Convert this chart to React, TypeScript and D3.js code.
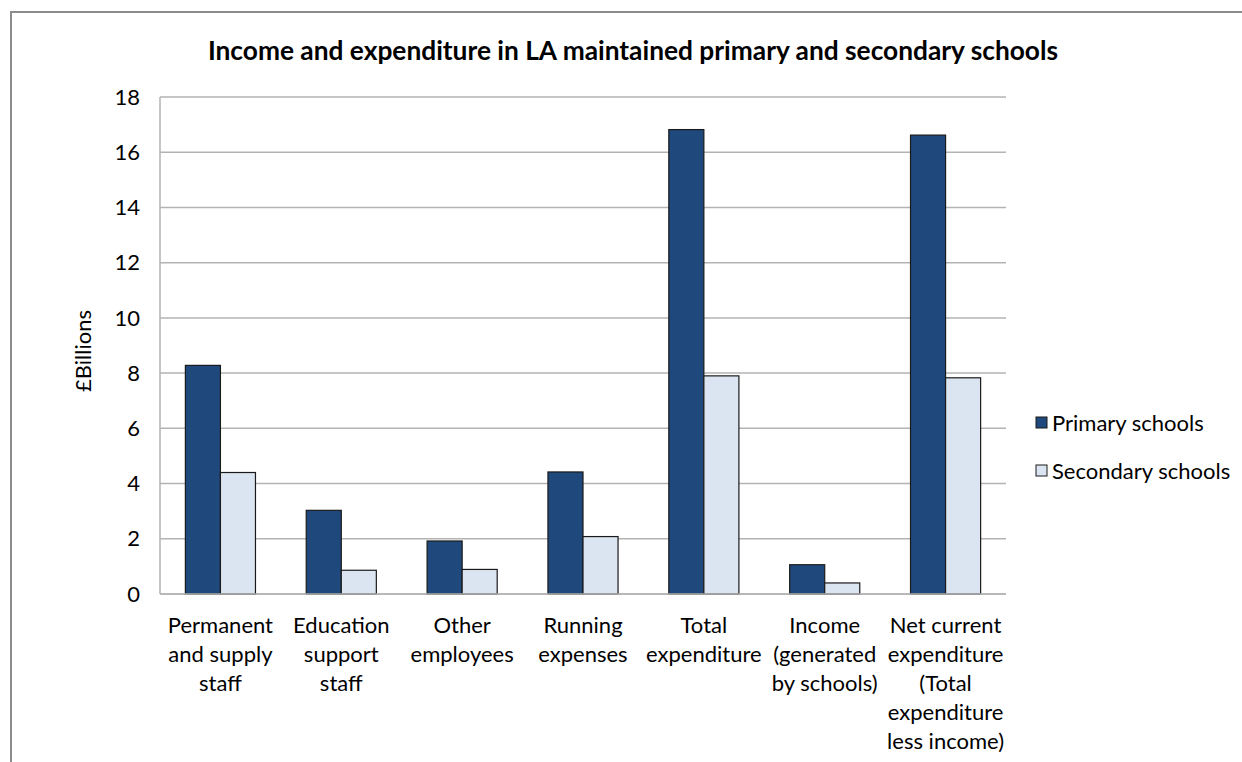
import React from "react";
import * as d3 from "d3";

const categories: string[][] = [
  ["Permanent", "and supply", "staff"],
  ["Education", "support", "staff"],
  ["Other", "employees"],
  ["Running", "expenses"],
  ["Total", "expenditure"],
  ["Income", "(generated", "by schools)"],
  ["Net current", "expenditure", "(Total", "expenditure", "less income)"],
];
const primary = [8.28, 3.03, 1.92, 4.42, 16.82, 1.06, 16.62];
const secondary = [4.4, 0.86, 0.89, 2.08, 7.9, 0.4, 7.83];
const yTicks = [0, 2, 4, 6, 8, 10, 12, 14, 16, 18];
const seriesNames = ["Primary schools", "Secondary schools"];
const colors = ["#1F497D", "#DBE5F1"];

const W = 1242;
const H = 762;
const left = 160;
const right = 1006;
const top = 97;
const bottom = 594;
const font = "Lato, 'Open Sans', sans-serif";

export default function App() {
  const x = d3
    .scaleBand<number>()
    .domain(d3.range(categories.length))
    .range([left, right])
    .paddingInner(0)
    .paddingOuter(0);
  const y = d3.scaleLinear().domain([0, 18]).range([bottom, top]);
  const bw = x.bandwidth() * 0.29;
  const series = [primary, secondary];

  return (
    <svg
      width={W}
      height={H}
      style={{ position: "absolute", left: 0, top: 0, background: "#fff" }}
      fontFamily={font}
    >
      <rect x={0} y={0} width={W} height={H} fill="#fff" />
      <path d="M11,763 V12 H1243" fill="none" stroke="#8c8c8c" strokeWidth={2} />
      <text
        x={633}
        y={60}
        textAnchor="middle"
        fontSize={26.3}
        fontWeight="bold"
        fill="#000"
      >
        Income and expenditure in LA maintained primary and secondary schools
      </text>
      {yTicks.map((t) => (
        <g key={t}>
          <line
            x1={left}
            x2={right}
            y1={y(t)}
            y2={y(t)}
            stroke="#b3b3b3"
            strokeWidth={1.5}
          />
          <text
            x={140}
            y={y(t)}
            dy="0.35em"
            textAnchor="end"
            fontSize={22}
            fill="#000"
          >
            {t}
          </text>
        </g>
      ))}
      <line x1={left} x2={left} y1={top} y2={bottom} stroke="#b3b3b3" strokeWidth={1.5} />
      <text
        transform={`translate(91,${351}) rotate(-90)`}
        textAnchor="middle"
        fontSize={22}
        fill="#000"
      >
        £Billions
      </text>
      {series.map((vals, si) =>
        vals.map((v, i) => {
          const cx = (x(i) as number) + x.bandwidth() / 2;
          const bx = si === 0 ? cx - bw : cx;
          return (
            <rect
              key={`${si}-${i}`}
              x={bx}
              y={y(v)}
              width={bw}
              height={bottom - y(v)}
              fill={colors[si]}
              stroke="#1a1a1a"
              strokeWidth={1.2}
            />
          );
        })
      )}
      <line x1={left} x2={right} y1={bottom} y2={bottom} stroke="#b3b3b3" strokeWidth={1.5} />
      {categories.map((lines, i) => {
        const cx = (x(i) as number) + x.bandwidth() / 2;
        return (
          <text key={i} textAnchor="middle" fontSize={22} fill="#000">
            {lines.map((l, k) => (
              <tspan key={k} x={cx} y={633 + k * 29}>
                {l}
              </tspan>
            ))}
          </text>
        );
      })}
      {seriesNames.map((n, i) => (
        <g key={n}>
          <rect
            x={1036}
            y={417 + i * 48}
            width={11}
            height={11}
            fill={colors[i]}
            stroke="#1a1a1a"
            strokeWidth={1}
          />
          <text x={1052} y={423 + i * 48} dy="0.35em" fontSize={22} fill="#000">
            {n}
          </text>
        </g>
      ))}
    </svg>
  );
}
